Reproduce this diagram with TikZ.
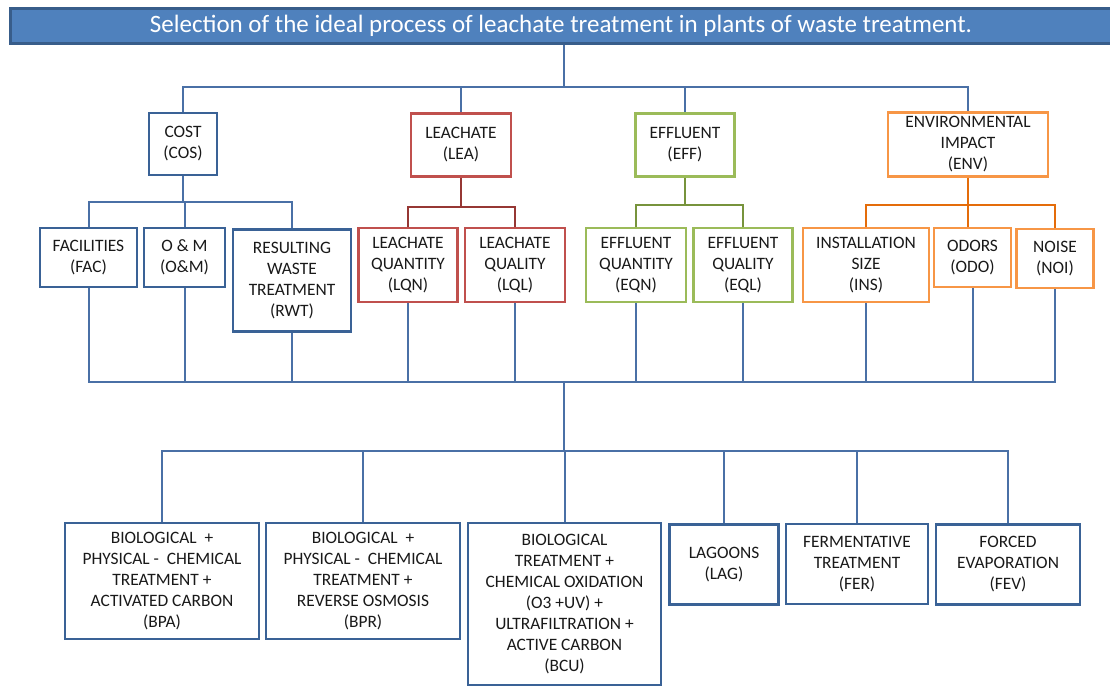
\documentclass[tikz,border=0pt]{standalone}
\usepackage{fontspec}
\setmainfont{Carlito}
\definecolor{boxblue}{RGB}{58,98,150}
\definecolor{lineblue}{RGB}{74,112,166}
\definecolor{titlefill}{RGB}{79,129,189}
\definecolor{titledraw}{RGB}{56,93,138}
\definecolor{boxred}{RGB}{192,80,77}
\definecolor{linered}{RGB}{150,55,52}
\definecolor{boxgreen}{RGB}{155,187,89}
\definecolor{linegreen}{RGB}{119,147,60}
\definecolor{boxorange}{RGB}{247,150,70}
\definecolor{lineorange}{RGB}{228,108,10}

\begin{document}
\begin{tikzpicture}[x=1pt, y=-1pt,
    crit/.style={draw=#1, line width=2.8pt, fill=white, inner sep=0pt, align=center,
        font=\fontsize{17.4}{21}\selectfont, text=black!90},
    link/.style={draw=#1, line width=2pt}]
    \useasboundingbox (0,0) rectangle (1110,686);

    % Title bar
    \node[fill=titlefill, draw=titledraw, line width=3pt, minimum width=1102pt, minimum height=35pt, inner sep=0pt,
        text=white, font=\fontsize{25}{28}\selectfont] (title) at (561,25.5)
        {Selection of the ideal process of leachate treatment in plants of waste treatment.};

    % Criteria
    \node[crit=boxblue, minimum width=68pt, minimum height=62pt] (cos) at (183,144) {COST\\(COS)};
    \node[crit=boxred, minimum width=100pt, minimum height=63pt] (lea) at (461,145) {LEACHATE\\(LEA)};
    \node[crit=boxgreen, minimum width=99pt, minimum height=63pt] (eff) at (685,145) {EFFLUENT\\(EFF)};
    \node[crit=boxorange, minimum width=160pt, minimum height=64pt] (env) at (968,144.5) {ENVIRONMENTAL\\IMPACT\\(ENV)};

    % Sub-criteria
    \node[crit=boxblue, minimum width=97pt, minimum height=59pt] (fac) at (88.5,257.5) {FACILITIES\\(FAC)};
    \node[crit=boxblue, minimum width=81pt, minimum height=59pt] (om) at (184.5,257.5) {O \& M\\(O\&M)};
    \node[crit=boxblue, minimum width=118pt, minimum height=102pt] (rwt) at (292,280.5) {RESULTING\\WASTE\\TREATMENT\\(RWT)};
    \node[crit=boxred, minimum width=99pt, minimum height=74pt] (lqn) at (408,265) {LEACHATE\\QUANTITY\\(LQN)};
    \node[crit=boxred, minimum width=100pt, minimum height=74pt] (lql) at (515,265) {LEACHATE\\QUALITY\\(LQL)};
    \node[crit=boxgreen, minimum width=100pt, minimum height=74pt] (eqn) at (636,265) {EFFLUENT\\QUANTITY\\(EQN)};
    \node[crit=boxgreen, minimum width=99pt, minimum height=74pt] (eql) at (743,265) {EFFLUENT\\QUALITY\\(EQL)};
    \node[crit=boxorange, minimum width=126pt, minimum height=74pt] (ins) at (866,265) {INSTALLATION\\SIZE\\(INS)};
    \node[crit=boxorange, minimum width=77pt, minimum height=59pt] (odo) at (972.5,257.5) {ODORS\\(ODO)};
    \node[crit=boxorange, minimum width=77pt, minimum height=59pt] (noi) at (1055,258.5) {NOISE\\(NOI)};

    % Alternatives
    \node[crit=boxblue, minimum width=194pt, minimum height=116pt] (bpa) at (162,581)
        {BIOLOGICAL~~+\\PHYSICAL -~~CHEMICAL\\TREATMENT +\\ACTIVATED CARBON\\(BPA)};
    \node[crit=boxblue, minimum width=194pt, minimum height=116pt] (bpr) at (363,581)
        {BIOLOGICAL~~+\\PHYSICAL -~~CHEMICAL\\TREATMENT +\\REVERSE OSMOSIS\\(BPR)};
    \node[crit=boxblue, minimum width=193pt, minimum height=162pt] (bcu) at (564.5,604)
        {BIOLOGICAL\\TREATMENT +\\CHEMICAL OXIDATION\\(O3 +UV) +\\ULTRAFILTRATION +\\ACTIVE CARBON\\(BCU)};
    \node[crit=boxblue, minimum width=109pt, minimum height=80pt] (lag) at (724,564.5) {LAGOONS\\(LAG)};
    \node[crit=boxblue, minimum width=142pt, minimum height=80pt] (fer) at (857,564) {FERMENTATIVE\\TREATMENT\\(FER)};
    \node[crit=boxblue, minimum width=144pt, minimum height=80pt] (fev) at (1008,564.5) {FORCED\\EVAPORATION\\(FEV)};

    % Bus levels
    \coordinate (topbus) at (564,87);
    \coordinate (botbus) at (564,381.5);
    \coordinate (altbus) at (564,451);

    % Title to criteria
    \draw[link=lineblue] (topbus |- title.south) -- (topbus);
    \draw[link=lineblue] (cos.north) |- (env.north |- topbus) -- (env.north);
    \foreach \n in {lea,eff}
        \draw[link=lineblue] (\n.north) -- (\n.north |- topbus);

    % Criteria to sub-criteria
    \draw[link=lineblue] (cos.south) -- (cos.south |- 0,202);
    \draw[link=lineblue] (fac.north) |- (rwt.north |- 0,202) -- (rwt.north);
    \draw[link=lineblue] (om.north) -- (om.north |- 0,202);
    \draw[link=linered] (lea.south) -- (lea.south |- 0,207);
    \draw[link=linered] (lqn.north) |- (lql.north |- 0,207) -- (lql.north);
    \draw[link=linegreen] (eff.south) -- (eff.south |- 0,205);
    \draw[link=linegreen] (eqn.north) |- (eql.north |- 0,205) -- (eql.north);
    \draw[link=lineorange] (env.south) -- (env.south |- odo.north);
    \draw[link=lineorange] (ins.north) |- (noi.north |- 0,205) -- (noi.north);

    % Sub-criteria to alternatives
    \draw[link=lineblue] (fac.south) |- (noi.south |- botbus) -- (noi.south);
    \foreach \n in {om,rwt,lqn,lql,eqn,eql,ins,odo}
        \draw[link=lineblue] (\n.south) -- (\n.south |- botbus);
    \draw[link=lineblue] (botbus) -- (altbus);
    \draw[link=lineblue] (bpa.north) |- (fev.north |- altbus) -- (fev.north);
    \foreach \n in {bpr,bcu,lag,fer}
        \draw[link=lineblue] (\n.north) -- (\n.north |- altbus);
  \end{tikzpicture}
\end{document}
